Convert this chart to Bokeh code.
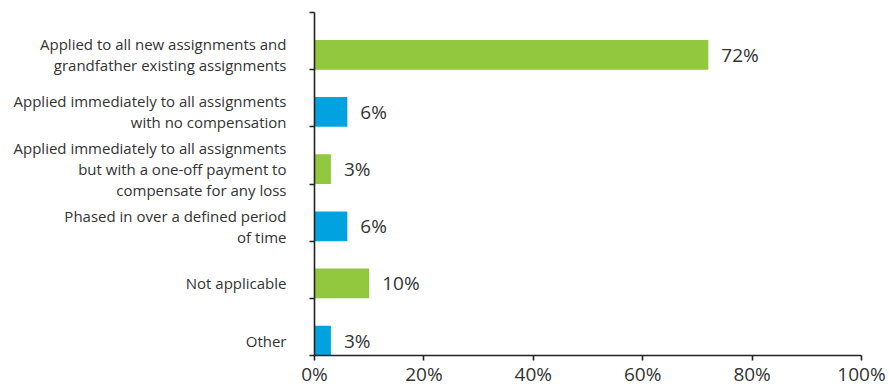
from bokeh.plotting import figure
from bokeh.models import Range1d, FixedTicker, PrintfTickFormatter, ColumnDataSource, LinearAxis
from bokeh.core.properties import value
from bokeh.embed import file_html
from bokeh.resources import INLINE

categories = [
    "Applied to all new assignments and\ngrandfather existing assignments",
    "Applied immediately to all assignments\nwith no compensation",
    "Applied immediately to all assignments\nbut with a one-off payment to\ncompensate for any loss",
    "Phased in over a defined period\nof time",
    "Not applicable",
    "Other",
]
values = [72, 6, 3, 6, 10, 3]
colors = ["#92C83E", "#00A3E0", "#92C83E", "#00A3E0", "#92C83E", "#00A3E0"]
x_ticks = [0, 20, 40, 60, 80, 100]

n = len(categories)
band_bottom = [n - 1 - i for i in range(n)]
centers = [b + 0.26 for b in band_bottom]

src = ColumnDataSource(dict(
    y=centers, v=values, c=colors,
    lab=[f"{v}%" for v in values],
))

FONT = "Open Sans"
TXT = "#333333"
AX = "#222222"

p = figure(width=888, height=389, output_backend="svg", toolbar_location=None,
           x_range=Range1d(0, 100), y_range=Range1d(0, n),
           min_border_left=314, min_border_right=27, min_border_top=12,
           min_border_bottom=26)
p.outline_line_color = None
p.grid.visible = False
p.background_fill_color = "white"

p.hbar(y="y", right="v", left=0, height=0.52, color="c", line_color=None, source=src)

p.text(x="v", y="y", text="lab", source=src, x_offset=13,
       text_font=value(FONT), text_font_size="19px", text_color=TXT,
       text_align="left", text_baseline="middle")

xa = p.xaxis[0]
xa.ticker = FixedTicker(ticks=x_ticks)
xa.formatter = PrintfTickFormatter(format="%d%%")
xa.major_label_text_font = FONT
xa.major_label_text_font_size = "19px"
xa.major_label_text_color = TXT
xa.major_label_standoff = 0
xa.axis_line_color = AX
xa.axis_line_width = 1.6
xa.major_tick_line_color = AX
xa.major_tick_line_width = 1.6
xa.major_tick_in = 0
xa.major_tick_out = 5
xa.minor_tick_line_color = None

# axis with boundary ticks (no labels)
ya = p.yaxis[0]
ya.ticker = FixedTicker(ticks=list(range(n + 1)))
ya.major_label_overrides = {i: "" for i in range(n + 1)}
ya.major_label_standoff = 0
ya.axis_line_color = AX
ya.axis_line_width = 1.6
ya.major_tick_line_color = AX
ya.major_tick_line_width = 1.6
ya.major_tick_in = 0
ya.major_tick_out = 5
ya.minor_tick_line_color = None

# axis carrying category labels at bar centres
la = LinearAxis(ticker=FixedTicker(ticks=centers),
                major_label_overrides={c: t for c, t in zip(centers, categories)})
la.axis_line_color = None
la.major_tick_line_color = None
la.minor_tick_line_color = None
la.major_tick_in = 0
la.major_tick_out = 0
la.major_label_standoff = 23
la.major_label_text_font = FONT
la.major_label_text_font_size = "15px"
la.major_label_text_color = TXT
la.major_label_text_line_height = 1.05
p.add_layout(la, "left")

open("out.html", "w").write(file_html(p, INLINE))
